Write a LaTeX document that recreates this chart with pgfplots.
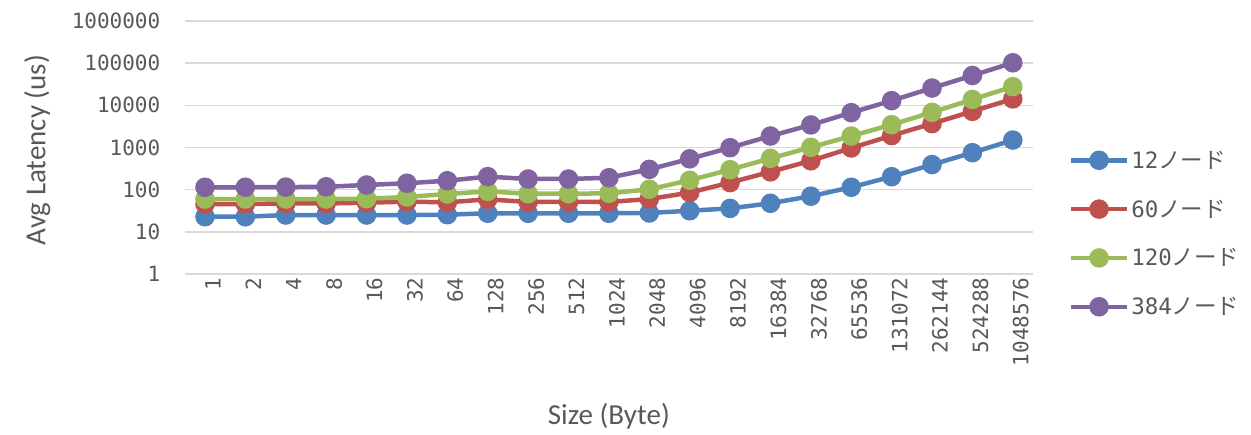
\documentclass[border=0pt]{standalone}
\usepackage{fontspec}
\setmainfont{Carlito}
\setmonofont{DejaVu Sans Mono}
\newfontfamily\jp{Noto Sans CJK JP}
\usepackage{pgfplots}
\pgfplotsset{compat=1.18}
\definecolor{cblue}{HTML}{4F81BD}
\definecolor{cred}{HTML}{C0504D}
\definecolor{cgreen}{HTML}{9BBB59}
\definecolor{cpurple}{HTML}{8064A2}
\definecolor{ctext}{HTML}{595959}
\definecolor{cgrid}{HTML}{D9D9D9}
\begin{document}
\begin{tikzpicture}[x=1pt,y=1pt]
\useasboundingbox (0,0) rectangle (1251,435);
\begin{axis}[
  at={(184.8pt,161pt)}, anchor=south west,
  scale only axis, width=848.2pt, height=253pt,
  ymode=log, ymin=1, ymax=1000000,
  xmin=-0.5, xmax=20.5,
  xtick={0,...,20},
  xticklabels={1,2,4,8,16,32,64,128,256,512,1024,2048,4096,8192,16384,32768,65536,131072,262144,524288,1048576},
  ytick={1,10,100,1000,10000,100000,1000000},
  yticklabels={1,10,100,1000,10000,100000,1000000},
  yminorticks=false,
  major tick length=0pt, minor tick length=0pt,
  axis line style={draw=none},
  ymajorgrids, xmajorgrids=false,
  major grid style={cgrid, line width=1.5pt},
  ticklabel style={font=\fontsize{21}{23}\selectfont\ttfamily, text=ctext},
  yticklabel style={anchor=east, xshift=-21pt},
  xticklabel style={rotate=90, anchor=east, yshift=-8pt},
  xlabel={Size (Byte)}, ylabel={Avg Latency (us)},
  label style={font=\fontsize{29}{33}\selectfont, text=ctext},
  xlabel style={at={(axis description cs:0.5,-0.561)}, anchor=center},
  ylabel style={at={(axis description cs:-0.174,0.49)}, anchor=center},
  every axis plot/.append style={line width=4.5pt, mark=*, mark size=7.5pt},
  legend style={at={(axis description cs:1.042,0.16)}, anchor=west, draw=none, fill=none,
    font=\fontsize{22.5}{25}\selectfont, text=ctext, row sep=26pt, inner sep=0pt},
  legend cell align=left,
  legend image code/.code={\draw[mark repeat=2,mark phase=2] plot coordinates {(0pt,0pt) (28pt,0pt) (56pt,0pt)};},
  clip=false,
]
\addplot[cblue] coordinates {(0,22.8) (1,22.8) (2,25) (3,25) (4,25) (5,25) (6,25.5) (7,27.5) (8,27.5) (9,27.5) (10,27.5) (11,28) (12,31.6) (13,36) (14,47.5) (15,70) (16,114) (17,203) (18,393) (19,753) (20,1500)};
\addlegendentry{{\ttfamily 12}{\jp ノード}}
\addplot[cred] coordinates {(0,45.7) (1,45.7) (2,47) (3,47) (4,49) (5,52) (6,50) (7,59) (8,51) (9,51) (10,51) (11,60) (12,85) (13,147) (14,265) (15,484) (16,973) (17,1914) (18,3680) (19,7200) (20,14200)};
\addlegendentry{{\ttfamily 60}{\jp ノード}}
\addplot[cgreen] coordinates {(0,60) (1,60) (2,60) (3,60) (4,61) (5,67) (6,79) (7,91) (8,80) (9,80) (10,82) (11,102) (12,167) (13,298) (14,552) (15,1010) (16,1870) (17,3470) (18,6830) (19,13800) (20,27700)};
\addlegendentry{{\ttfamily 120}{\jp ノード}}
\addplot[cpurple] coordinates {(0,114) (1,114) (2,115) (3,117) (4,129) (5,142) (6,163) (7,204) (8,179) (9,179) (10,192) (11,303) (12,538) (13,990) (14,1870) (15,3430) (16,6700) (17,12900) (18,25700) (19,51000) (20,102000)};
\addlegendentry{{\ttfamily 384}{\jp ノード}}
\end{axis}
\end{tikzpicture}
\end{document}
